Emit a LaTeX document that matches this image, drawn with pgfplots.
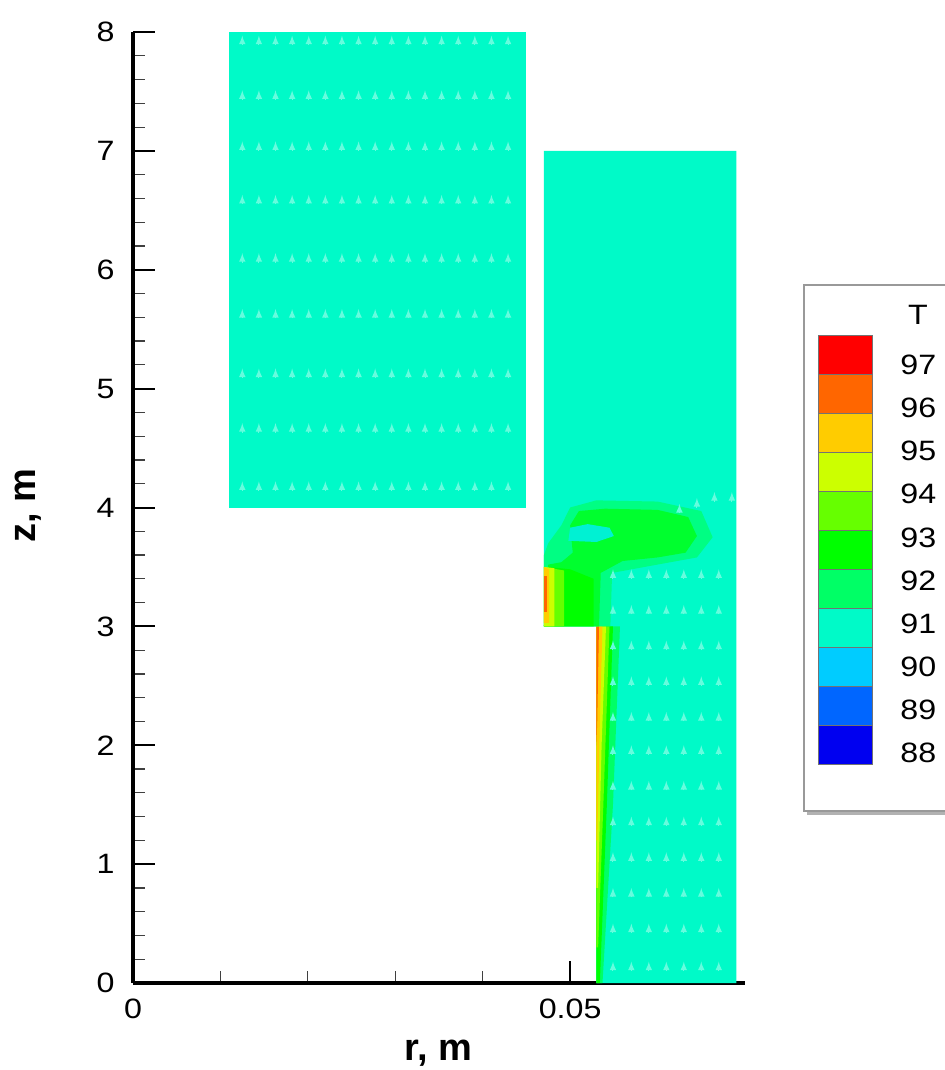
\documentclass[border=0pt]{standalone}
\usepackage{pgfplots}
\usepackage{pgfplotstable}
\pgfplotsset{compat=1.18}
\usepackage{fontspec}
\setmainfont{Liberation Sans}
\newfontfamily\tickfont[FakeStretch=1.15]{Liberation Sans}
\usetikzlibrary{calc}
\definecolor{c97}{RGB}{255,0,0}
\definecolor{c96}{RGB}{255,102,0}
\definecolor{c95}{RGB}{255,204,0}
\definecolor{c94}{RGB}{204,255,0}
\definecolor{c93}{RGB}{102,255,0}
\definecolor{c92}{RGB}{0,255,0}
\definecolor{c91}{RGB}{0,255,102}
\definecolor{c90}{RGB}{0,250,200}
\definecolor{c89}{RGB}{0,204,255}
\definecolor{c88}{RGB}{0,102,255}
\definecolor{c87}{RGB}{0,0,240}
\pgfplotstableread{
x y
0.0125 7.89
0.0144 7.89
0.0163 7.89
0.0182 7.89
0.0201 7.89
0.0220 7.89
0.0239 7.89
0.0258 7.89
0.0277 7.89
0.0296 7.89
0.0315 7.89
0.0334 7.89
0.0353 7.89
0.0372 7.89
0.0391 7.89
0.0410 7.89
0.0429 7.89
0.0125 7.43
0.0144 7.43
0.0163 7.43
0.0182 7.43
0.0201 7.43
0.0220 7.43
0.0239 7.43
0.0258 7.43
0.0277 7.43
0.0296 7.43
0.0315 7.43
0.0334 7.43
0.0353 7.43
0.0372 7.43
0.0391 7.43
0.0410 7.43
0.0429 7.43
0.0125 7.00
0.0144 7.00
0.0163 7.00
0.0182 7.00
0.0201 7.00
0.0220 7.00
0.0239 7.00
0.0258 7.00
0.0277 7.00
0.0296 7.00
0.0315 7.00
0.0334 7.00
0.0353 7.00
0.0372 7.00
0.0391 7.00
0.0410 7.00
0.0429 7.00
0.0125 6.55
0.0144 6.55
0.0163 6.55
0.0182 6.55
0.0201 6.55
0.0220 6.55
0.0239 6.55
0.0258 6.55
0.0277 6.55
0.0296 6.55
0.0315 6.55
0.0334 6.55
0.0353 6.55
0.0372 6.55
0.0391 6.55
0.0410 6.55
0.0429 6.55
0.0125 6.06
0.0144 6.06
0.0163 6.06
0.0182 6.06
0.0201 6.06
0.0220 6.06
0.0239 6.06
0.0258 6.06
0.0277 6.06
0.0296 6.06
0.0315 6.06
0.0334 6.06
0.0353 6.06
0.0372 6.06
0.0391 6.06
0.0410 6.06
0.0429 6.06
0.0125 5.59
0.0144 5.59
0.0163 5.59
0.0182 5.59
0.0201 5.59
0.0220 5.59
0.0239 5.59
0.0258 5.59
0.0277 5.59
0.0296 5.59
0.0315 5.59
0.0334 5.59
0.0353 5.59
0.0372 5.59
0.0391 5.59
0.0410 5.59
0.0429 5.59
0.0125 5.09
0.0144 5.09
0.0163 5.09
0.0182 5.09
0.0201 5.09
0.0220 5.09
0.0239 5.09
0.0258 5.09
0.0277 5.09
0.0296 5.09
0.0315 5.09
0.0334 5.09
0.0353 5.09
0.0372 5.09
0.0391 5.09
0.0410 5.09
0.0429 5.09
0.0125 4.63
0.0144 4.63
0.0163 4.63
0.0182 4.63
0.0201 4.63
0.0220 4.63
0.0239 4.63
0.0258 4.63
0.0277 4.63
0.0296 4.63
0.0315 4.63
0.0334 4.63
0.0353 4.63
0.0372 4.63
0.0391 4.63
0.0410 4.63
0.0429 4.63
0.0125 4.14
0.0144 4.14
0.0163 4.14
0.0182 4.14
0.0201 4.14
0.0220 4.14
0.0239 4.14
0.0258 4.14
0.0277 4.14
0.0296 4.14
0.0315 4.14
0.0334 4.14
0.0353 4.14
0.0372 4.14
0.0391 4.14
0.0410 4.14
0.0429 4.14
}\arrowsupper
\pgfplotstableread{
x y
0.0549 3.40
0.0570 3.40
0.0590 3.40
0.0610 3.40
0.0630 3.40
0.0650 3.40
0.0670 3.40
0.0549 3.10
0.0570 3.10
0.0590 3.10
0.0610 3.10
0.0630 3.10
0.0650 3.10
0.0670 3.10
0.0549 2.80
0.0570 2.80
0.0590 2.80
0.0610 2.80
0.0630 2.80
0.0650 2.80
0.0670 2.80
0.0549 2.50
0.0570 2.50
0.0590 2.50
0.0610 2.50
0.0630 2.50
0.0650 2.50
0.0670 2.50
0.0549 2.20
0.0570 2.20
0.0590 2.20
0.0610 2.20
0.0630 2.20
0.0650 2.20
0.0670 2.20
0.0549 1.92
0.0570 1.92
0.0590 1.92
0.0610 1.92
0.0630 1.92
0.0650 1.92
0.0670 1.92
0.0549 1.62
0.0570 1.62
0.0590 1.62
0.0610 1.62
0.0630 1.62
0.0650 1.62
0.0670 1.62
0.0549 1.32
0.0570 1.32
0.0590 1.32
0.0610 1.32
0.0630 1.32
0.0650 1.32
0.0670 1.32
0.0549 1.02
0.0570 1.02
0.0590 1.02
0.0610 1.02
0.0630 1.02
0.0650 1.02
0.0670 1.02
0.0549 0.72
0.0570 0.72
0.0590 0.72
0.0610 0.72
0.0630 0.72
0.0650 0.72
0.0670 0.72
0.0549 0.42
0.0570 0.42
0.0590 0.42
0.0610 0.42
0.0630 0.42
0.0650 0.42
0.0670 0.42
0.0549 0.10
0.0570 0.10
0.0590 0.10
0.0610 0.10
0.0630 0.10
0.0650 0.10
0.0670 0.10
0.0625 3.95
0.0645 4.00
0.0665 4.05
0.0685 4.05
}\arrowsright
\begin{document}
\begin{tikzpicture}
\begin{axis}[
  scale only axis, width=306pt, height=475.5pt,
  xmin=0, xmax=0.07, ymin=0, ymax=8,
  axis x line*=bottom, axis y line*=left,
  axis line style={line width=2pt},
  tick align=inside,
  scaled x ticks=false,
  xtick={0,0.05}, xticklabels={0,0.05},
  minor xtick={0.01,0.02,0.03,0.04,0.06},
  ytick={0,1,2,3,4,5,6,7,8}, minor y tick num=4,
  major tick length=11pt, minor tick length=6pt,
  major tick style={line width=1pt, black},
  minor tick style={line width=0.6pt, black!75},
  tick label style={font=\fontsize{14}{16}\selectfont\tickfont},
  /pgf/number format/assume math mode=true,
  yticklabel style={anchor=east, inner sep=0pt, xshift=-9pt},
  xticklabel style={anchor=north, inner sep=0pt, yshift=-8pt},
]
% upper-left fluid block
\addplot[fill=c90, draw=none] coordinates {(0.011,4) (0.045,4) (0.045,8) (0.011,8)} -- cycle;
% right fluid region
\addplot[fill=c90, draw=none] coordinates {(0.053,0) (0.069,0) (0.069,7) (0.047,7) (0.047,3) (0.053,3)} -- cycle;
% wall boundary layer, z = 0..3
\addplot[fill=c91, draw=none] coordinates {(0.053,0) (0.0537,0) (0.0549,1.5) (0.0557,3) (0.053,3)} -- cycle;
\addplot[fill=c92, draw=none] coordinates {(0.053,0) (0.0534,0) (0.0542,1.5) (0.0549,3) (0.053,3)} -- cycle;
\addplot[fill=c93, draw=none] coordinates {(0.053,0.3) (0.0532,0.3) (0.0538,1.5) (0.0545,3) (0.053,3)} -- cycle;
\addplot[fill=c94, draw=none] coordinates {(0.053,0.8) (0.0532,0.8) (0.0536,2) (0.0541,3) (0.053,3)} -- cycle;
\addplot[fill=c95, draw=none] coordinates {(0.053,1.2) (0.0531,1.2) (0.0534,2.2) (0.0537,3) (0.053,3)} -- cycle;
\addplot[fill=c96, draw=none] coordinates {(0.053,2.0) (0.0531,2.2) (0.0533,3) (0.053,3)} -- cycle;
% step and plume region
\addplot[fill=c91!70!c90, draw=none] coordinates {(0.0470,3.0) (0.0546,3.0) (0.0548,3.45) (0.0600,3.52) (0.0645,3.58) (0.0663,3.75) (0.0650,3.97) (0.0600,4.05) (0.0530,4.06) (0.0500,4.0) (0.0490,3.85) (0.0475,3.7) (0.0470,3.6)} -- cycle;
\addplot[fill=c92!55!c91, draw=none] coordinates {(0.0470,3.0) (0.0533,3.0) (0.0535,3.45) (0.0560,3.55) (0.0600,3.58) (0.0632,3.62) (0.0645,3.76) (0.0635,3.92) (0.0600,3.98) (0.0540,3.99) (0.0510,3.97) (0.0500,3.85) (0.0503,3.62) (0.0490,3.54) (0.0475,3.52)} -- cycle;
\addplot[fill=c92, draw=none] coordinates {(0.0470,3.0) (0.0527,3.0) (0.0527,3.40) (0.0500,3.48) (0.0475,3.5)} -- cycle;
\addplot[fill=c90!80!c89, draw=none] coordinates {(0.0498,3.72) (0.0530,3.71) (0.0550,3.76) (0.0545,3.83) (0.0520,3.86) (0.0500,3.83)} -- cycle;
\addplot[fill=c93, draw=none] coordinates {(0.0470,3.0) (0.0493,3.0) (0.0493,3.47) (0.0470,3.5)} -- cycle;
\addplot[fill=c94, draw=none] coordinates {(0.0470,3.0) (0.0482,3.0) (0.0482,3.49) (0.0470,3.5)} -- cycle;
\addplot[fill=c95, draw=none] coordinates {(0.0470,3.03) (0.0476,3.03) (0.0476,3.48) (0.0470,3.5)} -- cycle;
\addplot[fill=c96, draw=none] coordinates {(0.0470,3.12) (0.0473,3.12) (0.0473,3.42) (0.0470,3.42)} -- cycle;
% velocity vectors
\addplot[quiver={u=0, v=0.08}, -latex, white!40!c90, line width=0.5pt] table[x=x, y=y] {\arrowsupper};
\addplot[quiver={u=0, v=0.08}, -latex, white!40!c90, line width=0.5pt] table[x=x, y=y] {\arrowsright};
\coordinate (O) at (axis cs:0,0);
\end{axis}
\pgfresetboundingbox
\path[use as bounding box] ($(O)+(-66.5pt,-43.5pt)$) rectangle ($(O)+(406pt,491.5pt)$);
\begin{scope}[shift={(O)}]
  \node[rotate=90, font=\fontsize{19}{22}\selectfont\bfseries] at (-52.5pt,238.5pt) {z, m};
  \node[anchor=base, font=\fontsize{19}{22}\selectfont\bfseries] at (152.75pt,-38.5pt) {r, m};
  % legend
  \draw[gray!60, line width=2pt] (337pt,85pt) -- (430pt,85pt);
  \draw[gray!80, line width=0.8pt] (335.5pt,86pt) rectangle (430pt,349pt);
  \node[font=\fontsize{14}{16}\selectfont\tickfont] at (392.5pt,334pt) {T};
  \foreach \c [count=\i from 0] in {c87,c88,c89,c90,c91,c92,c93,c94,c95,c96,c97}
    \draw[black!55, line width=0.4pt, fill=\c] (342.5pt,{109.5pt+\i*19.5pt}) rectangle (369.5pt,{109.5pt+(\i+1)*19.5pt});
  \foreach \v [count=\k from 0] in {88,89,90,91,92,93,94,95,96,97}
    \node[anchor=west, inner sep=0pt, font=\fontsize{14}{16}\selectfont\tickfont] at (383.5pt,{115pt+\k*21.56pt}) {\v};
\end{scope}
\end{tikzpicture}
\end{document}
